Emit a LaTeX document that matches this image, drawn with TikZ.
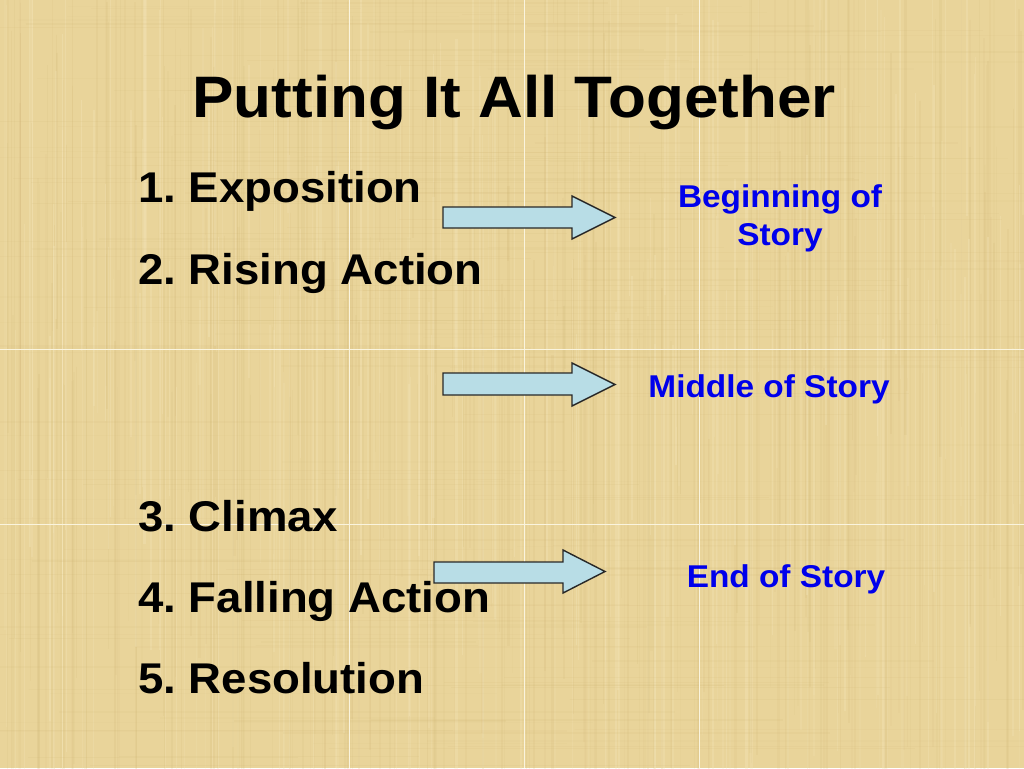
\documentclass[tikz,border=0pt]{standalone}
\usepackage{fontspec}
\setmainfont{Liberation Sans}[FakeStretch=1.06]
\frenchspacing
\definecolor{papyrus}{RGB}{233,212,154}
\definecolor{streakdark}{RGB}{205,178,112}
\definecolor{streaklight}{RGB}{246,232,190}
\definecolor{gridline}{RGB}{250,244,222}
\definecolor{arrowfill}{RGB}{184,221,230}
\definecolor{arrowline}{RGB}{40,40,40}
\definecolor{storyblue}{RGB}{0,0,235}
\tikzset{
  title/.style={inner sep=0pt, anchor=base, font=\bfseries\fontsize{58.5}{70}\selectfont},
  item/.style={inner sep=0pt, anchor=base west, font=\bfseries\fontsize{43}{50}\selectfont},
  story/.style={inner sep=0pt, anchor=base, text=storyblue, font=\bfseries\fontsize{31.5}{38}\selectfont},
  barrow/.style={fill=arrowfill, draw=arrowline, line width=1.4pt, line join=miter},
  gridl/.style={draw=gridline, line width=1pt},
}
\begin{document}
\begin{tikzpicture}[x=1pt,y=-1pt]
\useasboundingbox (0,0) rectangle (1024,768);
% background
\fill[papyrus] (0,0) rectangle (1024,768);
\pgfmathsetseed{12}
\foreach \i in {1,...,320}{
  \pgfmathsetmacro{\xx}{rnd*1024}
  \pgfmathsetmacro{\ww}{0.5+rnd*2}
  \pgfmathsetmacro{\oo}{0.05+rnd*0.1}
  \pgfmathsetmacro{\ya}{rnd*500-100}
  \pgfmathsetmacro{\yb}{\ya+250+rnd*600}
  \draw[streakdark, line width=\ww pt, opacity=\oo] (\xx,\ya) -- (\xx,\yb);
}
\foreach \i in {1,...,220}{
  \pgfmathsetmacro{\xx}{rnd*1024}
  \pgfmathsetmacro{\ww}{0.5+rnd*2}
  \pgfmathsetmacro{\oo}{0.12+rnd*0.2}
  \pgfmathsetmacro{\ya}{rnd*500-100}
  \pgfmathsetmacro{\yb}{\ya+200+rnd*600}
  \draw[streaklight, line width=\ww pt, opacity=\oo] (\xx,\ya) -- (\xx,\yb);
}
\foreach \i in {1,...,180}{
  \pgfmathsetmacro{\yy}{rnd*768}
  \pgfmathsetmacro{\ww}{0.5+rnd*1.2}
  \pgfmathsetmacro{\oo}{0.04+rnd*0.08}
  \pgfmathsetmacro{\xa}{rnd*700-100}
  \pgfmathsetmacro{\xb}{\xa+200+rnd*500}
  \draw[streakdark, line width=\ww pt, opacity=\oo] (\xa,\yy) -- (\xb,\yy);
}
% tile seams
\foreach \gx in {349,524,699}{ \draw[gridl] (\gx,0) -- (\gx,768); }
\foreach \gy in {349,524}{ \draw[gridl] (0,\gy) -- (1024,\gy); }
% title
\node[title] (ttl) at (514,117) {Putting It All Together};
% list
\node[item] (i1) at (138,202) {1. Exposition};
\node[item] (i2) at (138,284) {2. Rising Action};
\node[item] (i3) at (138,531) {3. Climax};
\node[item] (i4) at (138,612) {4. Falling Action};
\node[item] (i5) at (138,693) {5. Resolution};
% block arrows
\draw[barrow] (443,207) -- (572,207) -- (572,196) -- (615,217.5) -- (572,239) -- (572,228) -- (443,228) -- cycle;
\draw[barrow] (443,373) -- (572,373) -- (572,363) -- (615,384.5) -- (572,406) -- (572,395) -- (443,395) -- cycle;
\draw[barrow] (434,562) -- (563,562) -- (563,550) -- (605,571.5) -- (563,593) -- (563,583) -- (434,583) -- cycle;
% story labels
\node[story] (beg1) at (780,207) {Beginning of};
\node[story] (beg2) at (780,245) {Story};
\node[story] (mid) at (769,397) {Middle of Story};
\node[story] (end) at (786,587) {End of Story};
\end{tikzpicture}
\end{document}
